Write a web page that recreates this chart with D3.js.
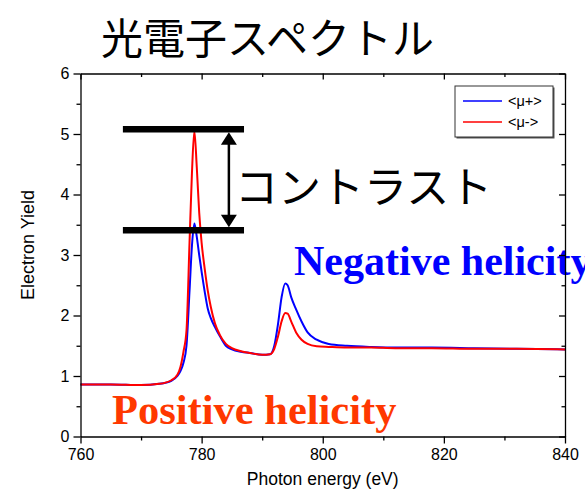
<!DOCTYPE html>
<html>
<head>
<meta charset="utf-8">
<script src="https://cdn.jsdelivr.net/npm/d3@7/dist/d3.min.js"></script>
<style>
  html, body { margin: 0; padding: 0; background: #fff; }
  svg { display: block; }
</style>
</head>
<body>
<svg id="chart" width="585" height="492"></svg>
<script>
// Photon energy grid (eV)
const energy = [760, 765, 770, 773, 775, 776, 776.5, 777, 777.5, 778, 778.4, 778.8, 779.2, 779.6,
  780.0, 780.5, 781, 781.5, 782.2, 783, 784, 785, 786.5, 788, 790, 791.3, 792, 792.6, 793.2,
  793.8, 794.2, 794.8, 795.6, 796.5, 797.5, 799, 801, 804, 808, 812, 818, 825, 832, 840];

// Electron yield, <μ+> (blue)
const muPlus = [0.86, 0.86, 0.85, 0.87, 0.92, 1.00, 1.08, 1.22, 1.50, 2.40, 3.15, 3.52, 3.30, 3.00,
  2.72, 2.40, 2.12, 1.96, 1.81, 1.66, 1.50, 1.44, 1.40, 1.38, 1.35, 1.36, 1.50, 1.85, 2.30,
  2.53, 2.50, 2.30, 2.10, 1.90, 1.72, 1.60, 1.53, 1.50, 1.48, 1.47, 1.47, 1.46, 1.45, 1.44];

// Electron yield, <μ-> (red)
const muMinus = [0.86, 0.86, 0.85, 0.87, 0.93, 1.02, 1.15, 1.40, 1.75, 3.20, 4.35, 5.05, 4.45, 3.70,
  3.20, 2.78, 2.42, 2.15, 1.87, 1.68, 1.53, 1.46, 1.41, 1.38, 1.35, 1.36, 1.45, 1.65, 1.90,
  2.04, 2.03, 1.90, 1.72, 1.60, 1.53, 1.49, 1.48, 1.47, 1.47, 1.46, 1.46, 1.45, 1.45, 1.44];

const seriesNames = ["<\u03bc+>", "<\u03bc->"];
const seriesColors = ["#0000ff", "#ff0000"];

const xTicks = [760, 780, 800, 820, 840];
const xMinor = [770, 790, 810, 830];
const yTicks = [0, 1, 2, 3, 4, 5, 6];
const yMinor = [0.5, 1.5, 2.5, 3.5, 4.5, 5.5];

// Contrast markers: peak levels of the two spectra
const contrastLevels = [5.08, 3.41];
const contrastSpan = [767, 787];
const contrastArrowAt = 784.5;

const svg = d3.select("#chart");
const plotLeft = 80.5, plotRight = 565, plotTop = 73.5, plotBottom = 436.5;

const x = d3.scaleLinear().domain([760, 840]).range([plotLeft, plotRight]);
const y = d3.scaleLinear().domain([0, 6]).range([plotBottom, plotTop]);

// Title
svg.append("text")
  .attr("x", 101).attr("y", 54)
  .attr("font-family", "'Noto Sans CJK JP', 'Noto Sans CJK SC', sans-serif")
  .attr("font-size", 42)
  .attr("fill", "#000")
  .text("光電子スペクトル");

// Spectra
const line = d3.line()
  .x(d => x(d[0]))
  .y(d => y(d[1]))
  .curve(d3.curveMonotoneX);

[muPlus, muMinus].forEach((vals, i) => {
  svg.append("path")
    .datum(energy.map((e, k) => [e, vals[k]]))
    .attr("fill", "none")
    .attr("stroke", seriesColors[i])
    .attr("stroke-width", 2)
    .attr("stroke-linejoin", "round")
    .attr("d", line);
});

// Contrast bars and double arrow
const ann = svg.append("g");
contrastLevels.forEach(v => {
  ann.append("line")
    .attr("x1", x(contrastSpan[0])).attr("x2", x(contrastSpan[1]))
    .attr("y1", y(v)).attr("y2", y(v))
    .attr("stroke", "#000").attr("stroke-width", 6.5);
});
const ax = x(contrastArrowAt);
const yTop = y(contrastLevels[0]) + 3, yBot = y(contrastLevels[1]) - 3;
ann.append("line")
  .attr("x1", ax).attr("x2", ax)
  .attr("y1", yTop + 10).attr("y2", yBot - 10)
  .attr("stroke", "#000").attr("stroke-width", 2.5);
ann.append("path")
  .attr("d", `M${ax},${yTop} L${ax - 8},${yTop + 12.5} L${ax + 8},${yTop + 12.5} Z`)
  .attr("fill", "#000");
ann.append("path")
  .attr("d", `M${ax},${yBot} L${ax - 8},${yBot - 12.5} L${ax + 8},${yBot - 12.5} Z`)
  .attr("fill", "#000");

svg.append("text")
  .attr("x", 235).attr("y", 203)
  .attr("font-family", "'Noto Sans CJK JP', 'Noto Sans CJK SC', sans-serif")
  .attr("font-size", 43)
  .attr("fill", "#000")
  .text("コントラスト");

// Helicity labels
svg.append("text")
  .attr("x", 294).attr("y", 275)
  .attr("font-family", "'Liberation Serif', 'Times New Roman', serif")
  .attr("font-weight", "bold")
  .attr("font-size", 42)
  .attr("fill", "#0000ff")
  .text("Negative helicity");

svg.append("text")
  .attr("x", 112).attr("y", 424)
  .attr("font-family", "'Liberation Serif', 'Times New Roman', serif")
  .attr("font-weight", "bold")
  .attr("font-size", 42.5)
  .attr("fill", "#ff3800")
  .text("Positive helicity");

// Axes
const axisFont = "'Liberation Sans', Arial, sans-serif";
function styleAxis(g) {
  g.selectAll("path, line").attr("stroke", "#000").attr("stroke-width", 1.3);
  g.selectAll("text").attr("font-family", axisFont).attr("font-size", 16).attr("fill", "#000");
}

svg.append("g").attr("transform", `translate(0,${plotBottom})`)
  .call(d3.axisBottom(x).tickValues(xTicks).tickSize(7).tickSizeOuter(0).tickPadding(5).tickFormat(d3.format("d")))
  .call(styleAxis);
svg.append("g").attr("transform", `translate(0,${plotBottom})`)
  .call(d3.axisBottom(x).tickValues(xMinor).tickSize(4).tickSizeOuter(0).tickFormat(""))
  .call(styleAxis).select(".domain").remove();

svg.append("g").attr("transform", `translate(${plotLeft},0)`)
  .call(d3.axisLeft(y).tickValues(yTicks).tickSize(7).tickSizeOuter(0).tickPadding(4).tickFormat(d3.format("d")))
  .call(styleAxis);
svg.append("g").attr("transform", `translate(${plotLeft},0)`)
  .call(d3.axisLeft(y).tickValues(yMinor).tickSize(4).tickSizeOuter(0).tickFormat(""))
  .call(styleAxis).select(".domain").remove();

// Mirrored top and right axes, ticks pointing inward
svg.append("g").attr("transform", `translate(0,${plotTop})`)
  .call(d3.axisTop(x).tickValues(xTicks).tickSize(-6).tickSizeOuter(0).tickFormat(""))
  .call(styleAxis);
svg.append("g").attr("transform", `translate(0,${plotTop})`)
  .call(d3.axisTop(x).tickValues(xMinor).tickSize(-3.5).tickSizeOuter(0).tickFormat(""))
  .call(styleAxis).select(".domain").remove();
svg.append("g").attr("transform", `translate(${plotRight},0)`)
  .call(d3.axisRight(y).tickValues(yTicks).tickSize(-6).tickSizeOuter(0).tickFormat(""))
  .call(styleAxis);
svg.append("g").attr("transform", `translate(${plotRight},0)`)
  .call(d3.axisRight(y).tickValues(yMinor).tickSize(-3.5).tickSizeOuter(0).tickFormat(""))
  .call(styleAxis).select(".domain").remove();

// Axis titles
svg.append("text")
  .attr("x", (plotLeft + plotRight) / 2).attr("y", 485)
  .attr("text-anchor", "middle")
  .attr("font-family", axisFont).attr("font-size", 17.5).attr("fill", "#000")
  .text("Photon energy (eV)");
svg.append("text")
  .attr("transform", `translate(34,245) rotate(-90)`)
  .attr("text-anchor", "middle")
  .attr("font-family", axisFont).attr("font-size", 18).attr("fill", "#000")
  .text("Electron Yield");

// Legend
const lg = svg.append("g").attr("transform", "translate(455,86)");
lg.append("rect").attr("x", 1.5).attr("y", 1.5).attr("width", 98).attr("height", 51).attr("fill", "#555");
lg.append("rect").attr("x", 0).attr("y", 0).attr("width", 98).attr("height", 51)
  .attr("fill", "#fff").attr("stroke", "#333").attr("stroke-width", 1);
seriesNames.forEach((name, i) => {
  const ly = 15 + i * 21;
  lg.append("line").attr("x1", 8).attr("x2", 47).attr("y1", ly).attr("y2", ly)
    .attr("stroke", seriesColors[i]).attr("stroke-width", 1.6);
  lg.append("text").attr("x", 53).attr("y", ly + 5)
    .attr("font-family", axisFont).attr("font-size", 14.5).attr("fill", "#000")
    .text(name);
});
</script>
</body>
</html>
